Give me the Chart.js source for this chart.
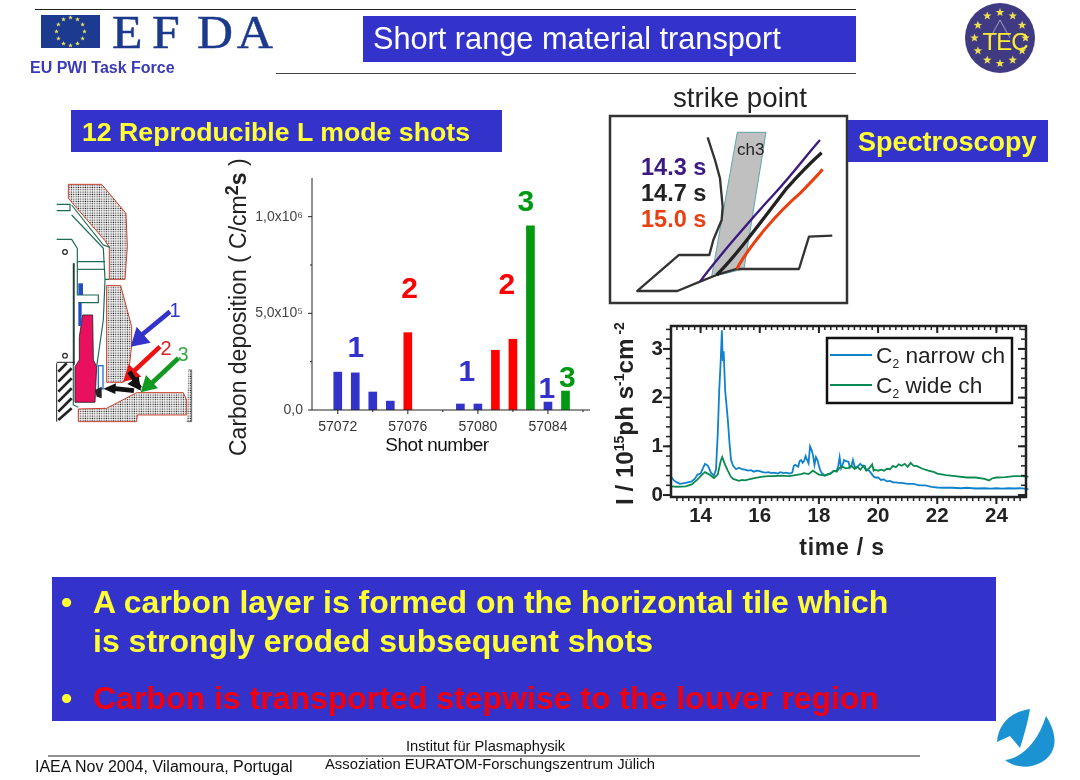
<!DOCTYPE html>
<html>
<head>
<meta charset="utf-8">
<title>Short range material transport</title>
<script src="https://cdn.jsdelivr.net/npm/chart.js@4"></script>
<style>
html, body { margin: 0; padding: 0; background: #fff; }
#page { position: relative; width: 1080px; height: 780px; overflow: hidden; font-family: "Liberation Sans", Arial, sans-serif; }
#page canvas { position: absolute; }
#barChart { left: 230px; top: 170px; }
#lineChart { left: 610px; top: 315px; }
#art { position: absolute; left: 0; top: 0; pointer-events: none; }
#art text { font-family: "Liberation Sans", Arial, sans-serif; }
</style>
</head>
<body>
<div id="page">
<canvas id="barChart" width="365" height="290"></canvas>
<canvas id="lineChart" width="430" height="250"></canvas>

<svg id="art" width="1080" height="780" viewBox="0 0 1080 780">
  <defs>
    <pattern id="stipple" width="7" height="7" patternUnits="userSpaceOnUse">
      <rect width="7" height="7" fill="#fff"/>
      <rect x="1.5" y="1.5" width="3.6" height="3.6" fill="#222"/>
    </pattern>
  </defs>

  <!-- header -->
  <line x1="35" y1="9.5" x2="856" y2="9.5" stroke="#222" stroke-width="1"/>
  <line x1="276" y1="73.5" x2="856" y2="73.5" stroke="#444" stroke-width="1"/>
  <rect x="41" y="15" width="59" height="33" fill="#1b3a90"/>
  <g id="flagStars"></g>
  <text transform="translate(0,48) scale(1.06,1)" x="105.7 143.4 185.8 223.6" y="0" font-size="47" fill="#1c3a8c" stroke="#1c3a8c" stroke-width="0.5" style="font-family:'Liberation Serif',serif">EFDA</text>
  <text x="30" y="73" font-size="16" font-weight="bold" fill="#3a3ab8">EU PWI Task Force</text>
  <rect x="363" y="16" width="493" height="46" fill="#3333cc"/>
  <text x="373" y="49" font-size="30.7" fill="#fff">Short range material transport</text>

  <circle cx="1000" cy="38" r="35" fill="#3f3a82"/>
  <path d="M990 38 L1000 20 L1010 38" fill="none" stroke="#b8b8d8" stroke-width="0.8"/>
  <g id="tecStars"></g>
  <text x="1005" y="50" text-anchor="middle" font-size="24" letter-spacing="-1" fill="#ffee33">TEC</text>

  <!-- left title and schematic -->
  <rect x="71" y="110" width="431" height="42" fill="#3333cc"/>
  <text x="82" y="141" font-size="26.7" font-weight="bold" fill="#ffff33">12 Reproducible L mode shots</text>

  <g transform="translate(40,170) scale(0.3333)" fill="none">
    <path d="M85 43 L185 43 L258 130 L262 230 L255 328 L208 328 L208 232 L195 212 L85 85 Z" fill="url(#stipple)" stroke="#c8402a" stroke-width="3"/>
    <path d="M200 347 L242 347 L275 470 L275 525 L268 590 L250 637 L200 637 Z" fill="url(#stipple)" stroke="#c8402a" stroke-width="3"/>
    <path d="M115 717 L200 715 L290 668 L430 668 L440 690 L440 735 L292 735 L290 755 L115 755 Z" fill="url(#stipple)" stroke="#c8402a" stroke-width="3"/>
    <path d="M445 600 L455 600 L455 755 L440 755" fill="url(#stipple)" stroke="#222" stroke-width="2"/>
    <g stroke="#1d6a55" stroke-width="3.5">
      <path d="M50 103 L90 103 L90 122 L50 122"/>
      <path d="M95 105 L190 225 L210 232"/>
      <path d="M95 135 L190 235 L195 328 L208 328"/>
      <path d="M50 208 L95 208 L112 235 L112 275 L195 275"/>
      <path d="M112 298 L195 298"/>
      <path d="M112 275 L112 375 L175 375 L175 398 L115 398"/>
      <path d="M195 330 L190 450 L170 590"/>
      <path d="M100 280 L100 705 L115 712"/>
    </g>
    <path d="M102 280 L102 585" stroke="#222" stroke-width="4"/>
    <circle cx="75" cy="246" r="7" stroke="#222" stroke-width="3.5" fill="#fff"/>
    <circle cx="75" cy="557" r="7" stroke="#222" stroke-width="3.5" fill="#fff"/>
    <path d="M50 577 L105 577" stroke="#222" stroke-width="3"/>
    <path d="M128 435 L158 435 L160 570 L170 590 L165 697 L105 697 L105 590 L118 570 L118 500 Z" fill="#e8105f" stroke="#222" stroke-width="2.5"/>
    <rect x="115" y="340" width="14" height="35" fill="#2050c0"/>
    <rect x="115" y="398" width="10" height="70" fill="#2050c0"/>
    <rect x="175" y="587" width="14" height="70" fill="#fff" stroke="#1f78d0" stroke-width="4"/>
    <path d="M55 605 L80 580 M55 635 L95 595 M55 665 L95 625 M55 695 L95 655 M55 725 L95 685 M55 750 L95 715" stroke="#222" stroke-width="8"/>
    <path d="M50 580 L50 755" stroke="#222" stroke-width="3"/>
    <path d="M165 660 L185 650 L185 685 L170 680" fill="#222"/>

    <path d="M390 425 L305 495" stroke="#3333cc" stroke-width="14"/>
    <path d="M272 530 L290 470 L332 518 Z" fill="#3333cc"/>
    <path d="M360 530 L280 605" stroke="#ee1111" stroke-width="14"/>
    <path d="M250 636 L266 582 L304 620 Z" fill="#ee1111"/>
    <path d="M268 605 L300 655" stroke="#111" stroke-width="14"/>
    <path d="M303 662 L262 642 L296 618 Z" fill="#111"/>
    <path d="M415 565 L335 640" stroke="#119922" stroke-width="14"/>
    <path d="M302 667 L318 615 L354 655 Z" fill="#119922"/>
    <path d="M282 662 L225 656" stroke="#111" stroke-width="14"/>
    <path d="M190 656 L228 640 L226 672 Z" fill="#111"/>
  </g>
  <text x="175" y="317" text-anchor="middle" font-size="20" fill="#3333cc">1</text>
  <text x="166" y="355" text-anchor="middle" font-size="20" fill="#dd2222">2</text>
  <text x="183" y="361" text-anchor="middle" font-size="20" fill="#33aa44">3</text>

  <!-- bar chart texts -->
  <text transform="translate(246,456) rotate(-90)" font-size="23" fill="#222">Carbon deposition ( C/cm<tspan font-weight="bold" font-size="18" dy="-8">2</tspan><tspan font-weight="bold" dy="8">s</tspan> )</text>
  <text x="437" y="451" text-anchor="middle" font-size="19" letter-spacing="-0.5" fill="#111">Shot number</text>
  <g id="barNotes" font-size="30" font-weight="bold" text-anchor="middle"></g>

  <!-- strike point -->
  <text x="673" y="107" font-size="27.7" fill="#222">strike point</text>
  <rect x="610" y="116" width="237" height="187" fill="none" stroke="#333" stroke-width="2.5"/>
  <g transform="translate(600,80) scale(0.3333)" fill="none" stroke-linejoin="round">
    <path d="M412 157 L498 157 L432 567 L335 590 Z" fill="#c0c0c0" stroke="#5fa5a8" stroke-width="3"/>
    <path d="M323 172 L345 240 L360 295 L368 380 L365 420 L340 480 L328 525 L237 525 L112 633 L232 633 L300 605 L350 585 L410 567 L597 567 L627 470 L697 467" stroke="#333" stroke-width="7"/>
    <path d="M300 605 C340 550 450 420 520 345 C580 280 620 225 660 180" stroke="#3a1a80" stroke-width="7"/>
    <path d="M350 585 C400 535 450 470 560 325 C600 280 640 240 665 218" stroke="#222" stroke-width="10"/>
    <path d="M410 567 C450 495 530 400 600 340 C630 310 650 290 668 268" stroke="#e84010" stroke-width="9"/>
  </g>
  <text x="737" y="155" font-size="17" fill="#222">ch3</text>
  <text x="641" y="175" font-size="23.5" font-weight="bold" fill="#3a1a80">14.3 s</text>
  <text x="641" y="201" font-size="23.5" font-weight="bold" fill="#222">14.7 s</text>
  <text x="641" y="227" font-size="23.5" font-weight="bold" fill="#e84010">15.0 s</text>
  <rect x="848" y="120" width="200" height="42" fill="#3333cc"/>
  <text x="858" y="151" font-size="27" font-weight="bold" fill="#ffff33">Spectroscopy</text>

  <!-- line chart texts -->
  <text transform="translate(633,505) rotate(-90)" font-size="24.2" font-weight="bold" fill="#222">I / 10<tspan font-size="14" dy="-9">15</tspan><tspan dy="9">ph s</tspan><tspan font-size="14" dy="-9">-1</tspan><tspan dy="9">cm</tspan><tspan font-size="14" dy="-9"> -2</tspan></text>
  <text x="842" y="555" text-anchor="middle" font-size="23" font-weight="bold" letter-spacing="0.8" fill="#222">time / s</text>
  <rect x="827" y="338" width="185" height="65" fill="#fff" stroke="#111" stroke-width="2.5"/>
  <g id="lineLegend" font-size="22.7" fill="#222"></g>

  <!-- bottom box -->
  <rect x="52" y="577" width="944" height="144" fill="#3333cc"/>
  <text x="61" y="613" font-size="32" font-weight="bold" fill="#ffff33">•</text>
  <text x="93" y="613" font-size="32" font-weight="bold" fill="#ffff33">A carbon layer is formed on the horizontal tile which</text>
  <text x="93" y="652" font-size="32" font-weight="bold" fill="#ffff33">is strongly eroded subsequent shots</text>
  <text x="61" y="709" font-size="32" font-weight="bold" fill="#ffff33">•</text>
  <text x="93" y="709" font-size="32" font-weight="bold" fill="#ee0011">Carbon is transported stepwise to the louver region</text>

  <!-- footer -->
  <line x1="48" y1="756" x2="920" y2="756" stroke="#222" stroke-width="1"/>
  <text x="406" y="751" font-size="14.7" fill="#111">Institut für Plasmaphysik</text>
  <text x="35" y="772" font-size="16" fill="#111">IAEA Nov 2004, Vilamoura, Portugal</text>
  <text x="325" y="769" font-size="14.8" fill="#111">Assoziation EURATOM-Forschungszentrum Jülich</text>
  <path d="M1030 709 C1010 712 998 725 997 742 L1010 736 L1020 748 C1024 735 1028 722 1030 709 Z" fill="#1b93d2"/>
  <path d="M1046 716 C1058 735 1058 752 1042 762 C1030 769 1015 768 1005 760 C1022 758 1038 742 1046 716 Z" fill="#1b93d2"/>
</svg>
</div>

<script>
// Carbon deposition bars
const shots = [57072,57073,57074,57075,57076,57079,57080,57081,57082,57083,57084,57085];
const deposition = [196000,192000,93000,46000,400000,31000,31000,309000,366000,952000,41000,98000];
const locations = [1,1,1,1,2,1,1,2,2,3,1,3];
const locationColors = {1:'#3333cc', 2:'#ff0000', 3:'#009911'};
const shotTicks = [57072,57076,57080,57084];
const shotMinorTicks = [57074,57078,57082,57086];
const depositionTicks = [0,500000,1000000];
const depositionMinorTicks = [250000,750000];
const depositionLabels = {0:'0,0', 500000:'5,0x10⁵', 1000000:'1,0x10⁶'};

// Short text marks over the bars: location number, shot, height
const noteNumbers = [1,2,2,3,1,1,3];
const noteShots = [57073.03,57076.1,57081.66,57082.74,57079.37,57083.94,57085.1];
const noteHeights = [273000,577000,598000,1031000,150000,62000,119000];

// C2 light signals
const seriesNames = ['narrow ch','wide ch'];
const narrowTime = [13.0,13.1,13.2,13.3,13.5,13.7,13.8,13.9,14.0,14.1,14.15,14.25,14.35,14.45,14.52,14.58,14.63,14.68,14.72,14.75,14.78,14.83,14.92,14.98,
  15.03,15.1,15.2,15.3,15.4,15.5,15.6,15.7,15.8,15.9,16.0,16.1,16.2,16.3,16.4,16.5,16.6,16.7,16.8,16.9,17.0,17.1,17.15,17.2,17.3,17.35,17.4,17.45,17.5,17.55,17.6,17.65,17.7,17.75,17.8,17.85,17.9,17.95,
  18.0,18.05,18.1,18.2,18.3,18.4,18.5,18.6,18.65,18.7,18.75,18.8,18.85,18.9,19.0,19.05,19.1,19.15,19.2,19.25,19.3,19.4,19.5,19.55,19.6,19.7,19.8,19.85,19.9,
  20.0,20.1,20.2,20.3,20.4,20.5,20.6,20.7,20.8,21.0,21.2,21.4,21.6,21.8,22.0,22.2,22.5,22.8,23.0,23.3,23.6,23.8,24.0,24.2,24.4,24.6,24.8,25.08];
const narrowValues = [.38,.30,.26,.23,.25,.28,.33,.42,.44,.58,.64,.60,.46,.40,.52,1.25,2.15,2.75,3.38,2.75,2.95,2.15,1.55,1.05,
  .72,.60,.53,.56,.53,.52,.50,.51,.48,.50,.49,.47,.46,.47,.45,.46,.44,.47,.45,.46,.44,.46,.60,.62,.58,.70,.72,.66,.70,.80,.72,.65,1.0,.93,.82,.62,.78,.72,
  .60,.50,.45,.40,.43,.45,.49,.50,.58,.78,.55,.62,.72,.70,.68,.56,.60,.72,.60,.55,.58,.64,.58,.60,.52,.50,.42,.38,.36,
  .36,.31,.32,.28,.29,.26,.26,.25,.25,.23,.23,.20,.20,.17,.155,.15,.15,.14,.15,.135,.14,.13,.14,.13,.14,.135,.14,.12];
const wideTime = [13.0,13.2,13.5,13.7,13.9,14.05,14.15,14.3,14.45,14.58,14.68,14.73,14.83,14.92,15.02,15.1,15.2,15.3,15.4,15.5,15.7,15.9,16.1,16.3,16.5,16.7,17.0,17.2,17.4,17.5,17.65,17.8,17.9,
  18.0,18.2,18.3,18.4,18.5,18.6,18.7,18.8,18.9,19.0,19.1,19.2,19.3,19.4,19.5,19.6,19.7,19.8,19.85,19.9,20.0,20.1,20.2,20.3,20.4,20.5,20.6,20.7,20.8,20.9,21.0,21.1,21.2,21.3,21.5,21.7,21.9,
  22.0,22.3,22.6,23.0,23.3,23.6,23.75,23.85,24.0,24.3,24.6,24.8,25.08];
const wideValues = [.18,.17,.18,.22,.32,.42,.47,.42,.35,.42,.70,.78,.62,.50,.38,.33,.31,.29,.31,.30,.33,.36,.38,.39,.39,.40,.39,.41,.43,.45,.43,.50,.46,
  .42,.40,.42,.44,.50,.48,.56,.58,.55,.56,.60,.54,.58,.52,.60,.50,.55,.63,.50,.52,.50,.52,.50,.54,.53,.60,.57,.63,.60,.64,.58,.66,.60,.60,.54,.50,.47,
  .44,.41,.39,.36,.36,.33,.30,.34,.36,.37,.39,.39,.38];
const timeTicks = [14,16,18,20,22,24];
const signalTicks = [0,1,2,3];

// Decoration, not data
function addStars(groupId, cx, cy, r, count, size, fill) {
  const group = document.getElementById(groupId);
  for (let i = 0; i < count; i++) {
    const a = i / count * Math.PI * 2 - Math.PI / 2;
    const x = cx + r * Math.cos(a), y = cy + r * Math.sin(a);
    let pts = [];
    for (let k = 0; k < 10; k++) {
      const b = k / 10 * Math.PI * 2 - Math.PI / 2;
      const rad = k % 2 ? size * 0.42 : size;
      pts.push((x + rad * Math.cos(b)).toFixed(1) + ',' + (y + rad * Math.sin(b)).toFixed(1));
    }
    const star = document.createElementNS('http://www.w3.org/2000/svg', 'polygon');
    star.setAttribute('points', pts.join(' '));
    star.setAttribute('fill', fill);
    group.appendChild(star);
  }
}
addStars('flagStars', 70.5, 31.5, 14, 12, 2.5, '#e8e060');
addStars('tecStars', 1000, 38, 25.5, 12, 4.5, '#f0e050');

function svgText(parent, x, y, content, attrs) {
  const t = document.createElementNS('http://www.w3.org/2000/svg', 'text');
  t.setAttribute('x', x);
  t.setAttribute('y', y);
  t.textContent = content;
  for (const k in attrs) t.setAttribute(k, attrs[k]);
  parent.appendChild(t);
  return t;
}

function drawTickList(ctx, list, scale, from, length, horizontal, width) {
  ctx.lineWidth = width;
  list.forEach(function (v) {
    const p = scale.getPixelForValue(v);
    ctx.beginPath();
    if (horizontal) {
      ctx.moveTo(p, from);
      ctx.lineTo(p, from + length);
    } else {
      ctx.moveTo(from, p);
      ctx.lineTo(from + length, p);
    }
    ctx.stroke();
  });
}

// fixed box sizes so the plot area lands where it should
function fixBox(scale, side, size) {
  scale[side] = size;
  scale.paddingTop = 0;
  scale.paddingBottom = 0;
  scale.paddingLeft = 0;
  scale.paddingRight = 0;
}

const barAxes = {
  id: 'barAxes',
  afterDraw(chart) {
    const ctx = chart.ctx, a = chart.chartArea;
    ctx.save();
    ctx.strokeStyle = '#222';
    ctx.lineWidth = 1;
    ctx.beginPath();
    ctx.moveTo(a.left, a.top);
    ctx.lineTo(a.left, a.bottom);
    ctx.lineTo(a.right, a.bottom);
    ctx.stroke();
    drawTickList(ctx, shotTicks, chart.scales.x, a.bottom, 4, true, 1);
    drawTickList(ctx, shotMinorTicks, chart.scales.x, a.bottom, 2, true, 1);
    drawTickList(ctx, depositionTicks, chart.scales.y, a.left - 4, 4, false, 1);
    drawTickList(ctx, depositionMinorTicks, chart.scales.y, a.left - 2, 2, false, 1);
    ctx.restore();
  }
};

const barChart = new Chart(document.getElementById('barChart'), {
  type: 'bar',
  data: {
    datasets: [{
      data: shots.map((s, i) => ({x: s, y: deposition[i]})),
      backgroundColor: locations.map(l => locationColors[l]),
      barThickness: 8
    }]
  },
  options: {
    responsive: false,
    animation: false,
    layout: {padding: {top: 8, right: 5}},
    plugins: {legend: {display: false}, tooltip: {enabled: false}},
    scales: {
      x: {
        type: 'linear',
        offset: false,
        min: 57070.53,
        max: 57086.4,
        grid: {display: false, drawTicks: false},
        border: {display: false},
        afterBuildTicks(scale) { scale.ticks = shotTicks.map(v => ({value: v})); },
        afterFit(scale) { fixBox(scale, 'height', 50); },
        ticks: {
          autoSkip: false,
          maxRotation: 0,
          padding: 9,
          color: '#333',
          font: {family: 'Liberation Sans', size: 14},
          callback: v => String(v)
        }
      },
      y: {
        min: 0,
        max: 1200000,
        grid: {display: false, drawTicks: false},
        border: {display: false},
        afterBuildTicks(scale) { scale.ticks = depositionTicks.map(v => ({value: v})); },
        afterFit(scale) { fixBox(scale, 'width', 82); },
        ticks: {
          autoSkip: false,
          padding: 9,
          color: '#444',
          font: {family: 'Liberation Sans', size: 14},
          callback: v => depositionLabels[v]
        }
      }
    }
  },
  plugins: [barAxes]
});

const lineFrame = {
  id: 'lineFrame',
  afterDraw(chart) {
    const ctx = chart.ctx, a = chart.chartArea;
    const xs = chart.scales.x, ys = chart.scales.y;
    let xMinor = [], yMinor = [];
    for (let i = 66; i < 125; i++) xMinor.push(i / 5);
    for (let i = 0; i < 18; i++) yMinor.push(i / 5);
    ctx.save();
    ctx.strokeStyle = '#222';
    drawTickList(ctx, xMinor, xs, a.bottom, 4, true, 1.5);
    drawTickList(ctx, xMinor, xs, a.top, 4, true, 1.5);
    drawTickList(ctx, yMinor, ys, a.left - 5, 5, false, 1.5);
    drawTickList(ctx, yMinor, ys, a.right - 5, 5, false, 1.5);
    drawTickList(ctx, timeTicks, xs, a.bottom, 7, true, 2);
    drawTickList(ctx, timeTicks, xs, a.top, 7, true, 2);
    drawTickList(ctx, signalTicks, ys, a.left - 8, 8, false, 2);
    drawTickList(ctx, signalTicks, ys, a.right - 8, 8, false, 2);
    ctx.lineWidth = 2.5;
    ctx.strokeRect(a.left, a.top, a.right - a.left, a.bottom - a.top);
    ctx.restore();
  }
};

const lineChart = new Chart(document.getElementById('lineChart'), {
  type: 'line',
  data: {
    datasets: [
      {
        label: seriesNames[0],
        data: narrowTime.map((t, i) => ({x: t, y: narrowValues[i]})),
        borderColor: '#0f82cc',
        borderWidth: 1.8,
        pointRadius: 0,
        tension: 0,
        clip: 4,
        order: 1
      },
      {
        label: seriesNames[1],
        data: wideTime.map((t, i) => ({x: t, y: wideValues[i]})),
        borderColor: '#0a8a50',
        borderWidth: 1.8,
        pointRadius: 0,
        tension: 0,
        clip: 4,
        order: 0
      }
    ]
  },
  options: {
    responsive: false,
    animation: false,
    layout: {padding: {top: 11, right: 14}},
    plugins: {legend: {display: false}, tooltip: {enabled: false}},
    scales: {
      x: {
        type: 'linear',
        min: 13,
        max: 25,
        grid: {display: false, drawTicks: false},
        border: {display: false},
        afterBuildTicks(scale) { scale.ticks = timeTicks.map(v => ({value: v})); },
        afterFit(scale) { fixBox(scale, 'height', 68); },
        ticks: {
          autoSkip: false,
          maxRotation: 0,
          padding: 7,
          color: '#222',
          font: {family: 'Liberation Sans', size: 20.5, weight: 'bold'}
        }
      },
      y: {
        min: -0.04,
        max: 3.47,
        grid: {display: false, drawTicks: false},
        border: {display: false},
        afterBuildTicks(scale) { scale.ticks = signalTicks.map(v => ({value: v})); },
        afterFit(scale) { fixBox(scale, 'width', 61); },
        ticks: {
          autoSkip: false,
          padding: 8,
          color: '#222',
          font: {family: 'Liberation Sans', size: 20.5, weight: 'bold'}
        }
      }
    }
  },
  plugins: [lineFrame]
});

// Numbers over the bars, placed through the chart scales
const barNotes = document.getElementById('barNotes');
noteNumbers.forEach(function (n, i) {
  const x = 230 + barChart.scales.x.getPixelForValue(noteShots[i]);
  const y = 170 + barChart.scales.y.getPixelForValue(noteHeights[i]);
  svgText(barNotes, x, y, String(n), {fill: locationColors[n]});
});

// Hand built legend, the library one cannot set the subscript
const lineLegend = document.getElementById('lineLegend');
lineChart.data.datasets.forEach(function (ds, i) {
  const y = 355 + i * 30;
  const line = document.createElementNS('http://www.w3.org/2000/svg', 'line');
  line.setAttribute('x1', 830);
  line.setAttribute('x2', 872);
  line.setAttribute('y1', y);
  line.setAttribute('y2', y);
  line.setAttribute('stroke', ds.borderColor);
  line.setAttribute('stroke-width', 2);
  lineLegend.appendChild(line);
  const t = svgText(lineLegend, 876, y + 8, 'C', {});
  const sub = document.createElementNS('http://www.w3.org/2000/svg', 'tspan');
  sub.setAttribute('font-size', 12);
  sub.setAttribute('dy', 5);
  sub.textContent = '2';
  t.appendChild(sub);
  const rest = document.createElementNS('http://www.w3.org/2000/svg', 'tspan');
  rest.setAttribute('dy', -5);
  rest.textContent = ' ' + ds.label;
  t.appendChild(rest);
});
</script>
</body>
</html>
